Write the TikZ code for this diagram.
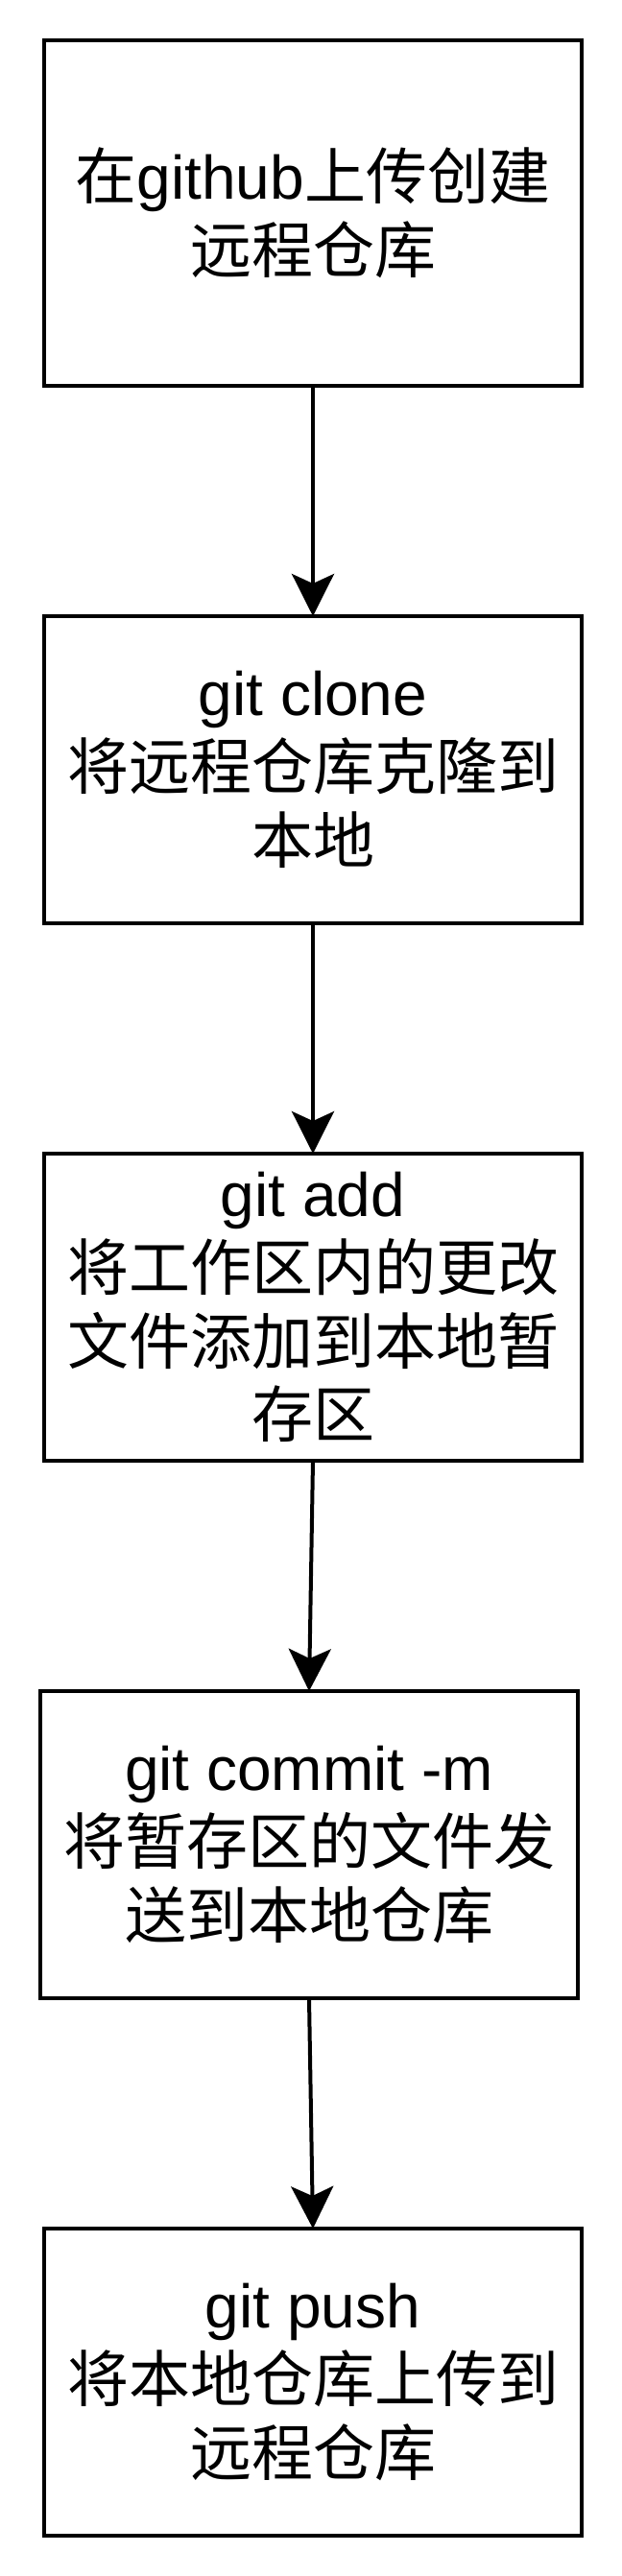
\documentclass[tikz,border=0pt]{standalone}
\usepackage{fontspec}
\setmainfont{Liberation Sans}
\newfontfamily\zhfont{Noto Sans CJK SC}
\newcommand{\zh}[1]{{\zhfont #1}}
\usetikzlibrary{arrows.meta}
\begin{document}
\begin{tikzpicture}[x=1pt,y=-1pt,
	stepbox/.style={draw=black,line width=1pt,minimum width=140pt,minimum height=80pt,inner sep=0pt,outer sep=0pt,align=center,font=\fontsize{16pt}{19.2pt}\selectfont},
	flow/.style={draw=black,line width=1pt,-{Stealth[length=11pt,width=11pt,inset=2.5pt]}}]
	\fill[white] (0,0) rectangle (162,671);
	\useasboundingbox (0,0) rectangle (162,671);
	\node[stepbox,minimum height=90pt] (remote) at (81.5,55.5) {\zh{在}github\zh{上传创建}\\\zh{远程仓库}};
	\node[stepbox] (clone) at (81.5,200.5) {git clone\\\zh{将远程仓库克隆到}\\\zh{本地}};
	\node[stepbox] (add) at (81.5,340.5) {git add\\\zh{将工作区内的更改}\\\zh{文件添加到本地暂}\\\zh{存区}};
	\node[stepbox] (commit) at (80.5,480.5) {git commit -m\\\zh{将暂存区的文件发}\\\zh{送到本地仓库}};
	\node[stepbox] (push) at (81.5,620.5) {git push\\\zh{将本地仓库上传到}\\\zh{远程仓库}};
	\draw[flow] (remote.south)--(clone.north);
	\draw[flow] (clone.south)--(add.north);
	\draw[flow] (add.south)--(commit.north);
	\draw[flow] (commit.south)--(push.north);
\end{tikzpicture}
\end{document}
